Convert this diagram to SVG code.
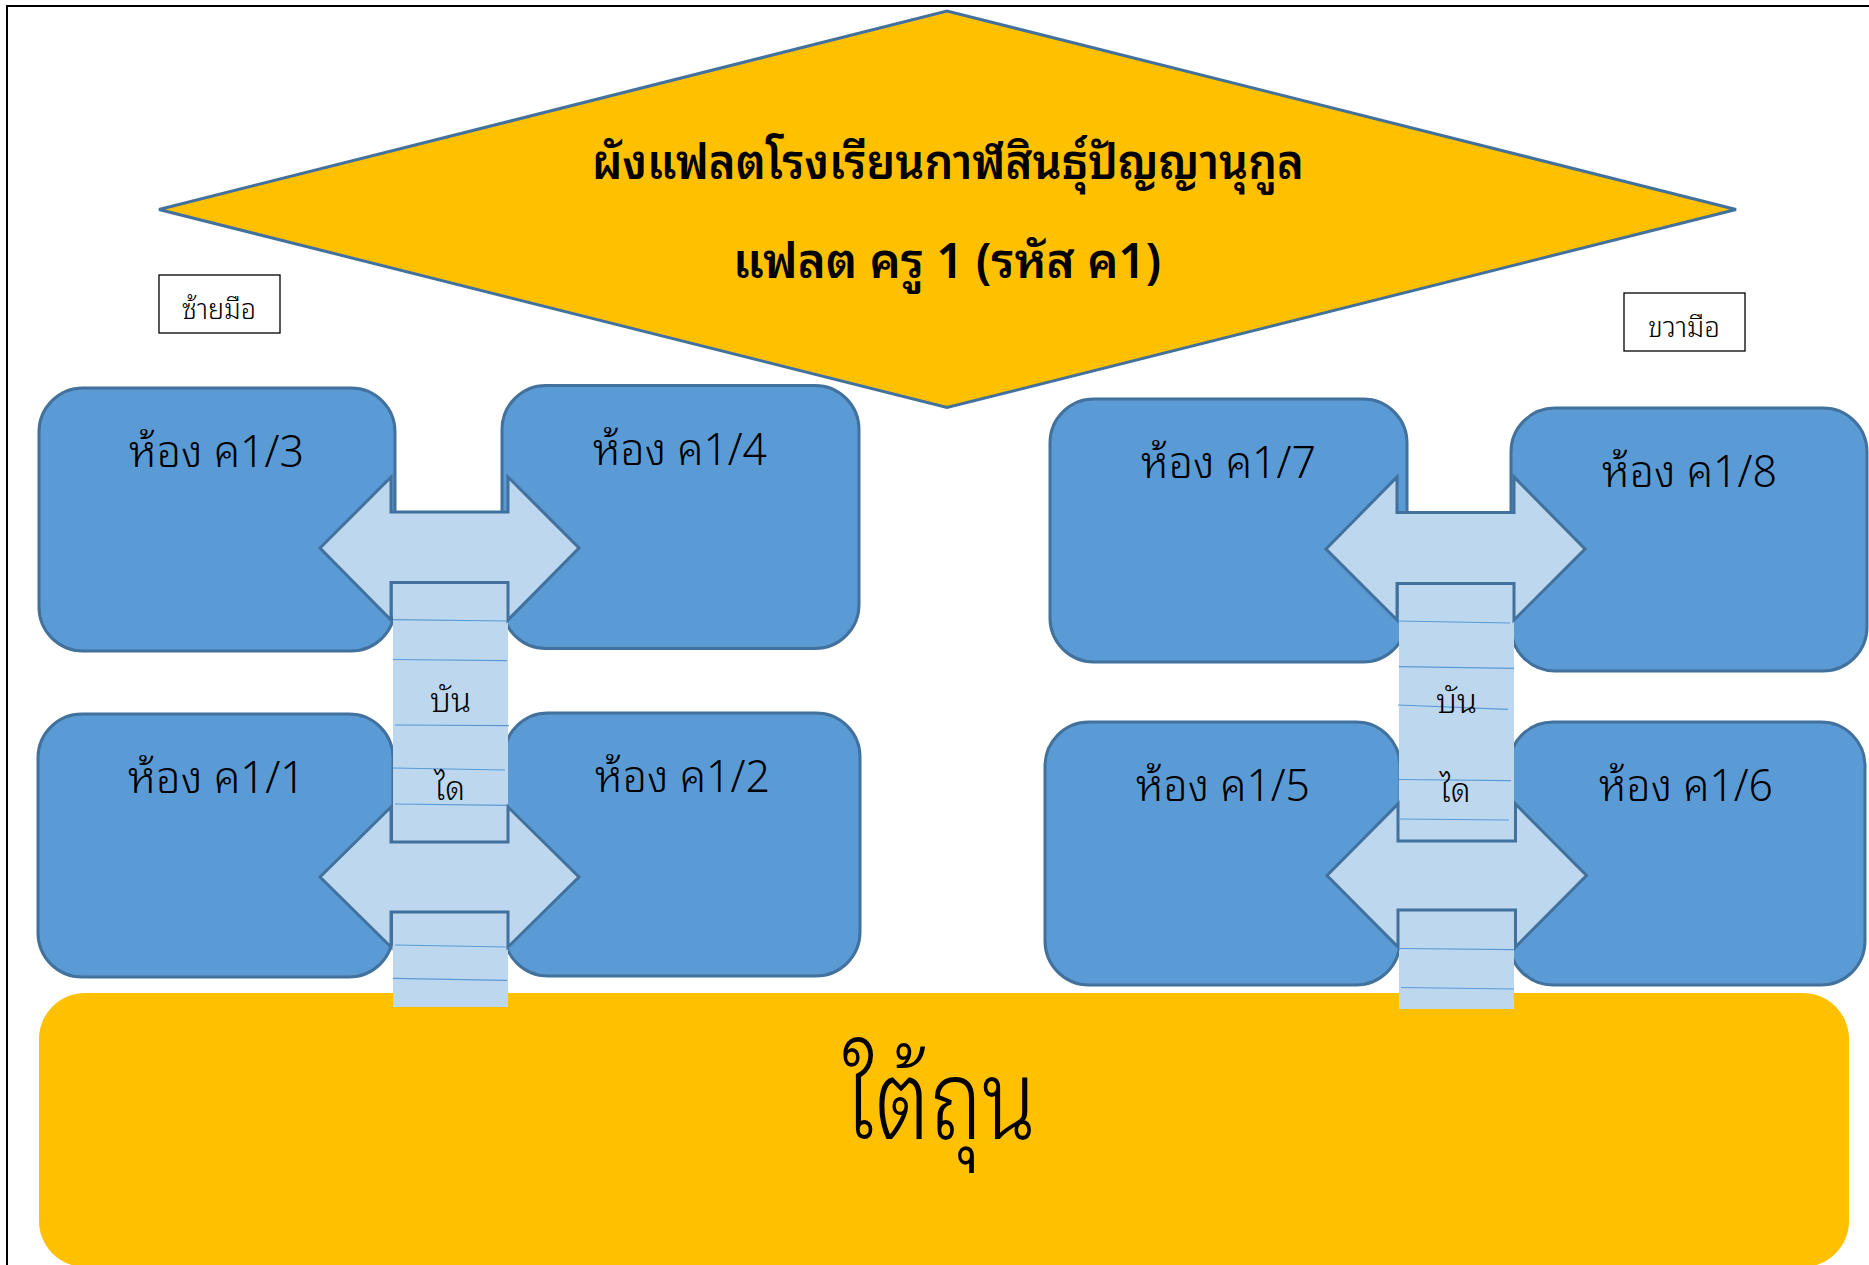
<svg xmlns="http://www.w3.org/2000/svg" width="1869" height="1265" viewBox="0 0 1869 1265">
<style>
text{font-family:"Noto Sans Thai Looped","Noto Sans Thai","Noto Sans","Liberation Sans",sans-serif;fill:#000;font-weight:300}
.room{fill:#5B9BD5;stroke:#41719C;stroke-width:3}
.arrow{fill:#BDD7EE;stroke:#41719C;stroke-width:3;stroke-linejoin:miter}
.stair{fill:#BDD7EE}
.step{stroke:#5B9BD5;stroke-width:1.2;fill:none}
.label{fill:#fff;stroke:#000;stroke-width:1.3}
.rt{font-size:44px}
.lt{font-size:28px}
.st{font-size:34px}
.tt{font-size:48px;font-weight:600}
</style>
<rect width="1869" height="1265" fill="#fff"/>
<path d="M7 1265V6H1869" fill="none" stroke="#000" stroke-width="2"/>
<g id="basement"><rect x="39" y="993" width="1810" height="274" rx="46" ry="46" fill="#FFC000"/><text x="843" y="1139" font-size="110" textLength="193" lengthAdjust="spacingAndGlyphs">ใต้ถุน</text></g>
<g id="title"><polygon points="159,209.5 947,11 1736,209.5 947,407.5" fill="#FFC000" stroke="#41719C" stroke-width="3"/>
<text class="tt" x="592" y="179" textLength="712" lengthAdjust="spacingAndGlyphs">ผังแฟลตโรงเรียนกาฬสินธุ์ปัญญานุกูล</text>
<text class="tt" x="733" y="278" textLength="428" lengthAdjust="spacingAndGlyphs">แฟลต ครู 1 (รหัส ค1)</text></g>
<g id="label-left"><rect class="label" x="159" y="275" width="121" height="58"/><text class="lt" x="182" y="319" textLength="74" lengthAdjust="spacingAndGlyphs">ซ้ายมือ</text></g>
<g id="label-right"><rect class="label" x="1624" y="293" width="121" height="58"/><text class="lt" x="1648" y="337" textLength="72" lengthAdjust="spacingAndGlyphs">ขวามือ</text></g>
<g id="room-3"><rect class="room" x="39" y="388" width="356" height="263" rx="44"/><text class="rt" x="129" y="467" textLength="175" lengthAdjust="spacingAndGlyphs">ห้อง ค1/3</text></g>
<g id="room-4"><rect class="room" x="502" y="385.5" width="357" height="263" rx="44"/><text class="rt" x="593" y="464.5" textLength="174" lengthAdjust="spacingAndGlyphs">ห้อง ค1/4</text></g>
<g id="room-1"><rect class="room" x="38" y="714" width="355" height="263" rx="44"/><text class="rt" x="128" y="792.5" textLength="177" lengthAdjust="spacingAndGlyphs">ห้อง ค1/1</text></g>
<g id="room-2"><rect class="room" x="504" y="713" width="356" height="263" rx="44"/><text class="rt" x="595" y="791.5" textLength="175" lengthAdjust="spacingAndGlyphs">ห้อง ค1/2</text></g>
<g id="room-7"><rect class="room" x="1050" y="399" width="357" height="263" rx="44"/><text class="rt" x="1141" y="477.5" textLength="175" lengthAdjust="spacingAndGlyphs">ห้อง ค1/7</text></g>
<g id="room-8"><rect class="room" x="1511" y="408" width="356" height="263" rx="44"/><text class="rt" x="1602" y="487" textLength="175" lengthAdjust="spacingAndGlyphs">ห้อง ค1/8</text></g>
<g id="room-5"><rect class="room" x="1045" y="722" width="355" height="263" rx="44"/><text class="rt" x="1136" y="800.6" textLength="174" lengthAdjust="spacingAndGlyphs">ห้อง ค1/5</text></g>
<g id="room-6"><rect class="room" x="1509" y="722" width="356" height="263" rx="44"/><text class="rt" x="1599" y="800.6" textLength="174" lengthAdjust="spacingAndGlyphs">ห้อง ค1/6</text></g>
<g id="connectors">
<rect class="stair" x="393" y="584" width="115" height="423"/>
<rect class="stair" x="1399" y="584" width="115" height="425"/>
<polygon class="arrow" points="320,548 391,477 391,512 508,512 508,477 579,548 508,620 508,582.5 391,582.5 391,620"/>
<polygon class="arrow" points="320,877 391,807 391,842 508,842 508,807 579,877 508,947 508,912 391,912 391,947"/>
<polygon class="arrow" points="1326,549 1397,477 1397,512.5 1514,512.5 1514,477 1585,549 1514,620 1514,583.5 1397,583.5 1397,620"/>
<polygon class="arrow" points="1327,875.5 1398,804 1398,841 1515.5,841 1515.5,804 1586.5,875.5 1515.5,947 1515.5,910 1398,910 1398,947"/>
<path class="step" d="M393 619.6L507 621M393 659.5L507 660.7M395 725L509 725.7M393 768L505 770M395 804L507 805.4M395 945L507 947M393 978.4L507 980.4"/>
<path class="step" d="M1398 621L1510 623M1399 666.7L1514 668.3M1398 705L1508 709.4M1399 779.5L1511 780.7M1398 819L1509 820M1400 948.5L1514 949.7M1401 987.5L1514 989"/>
</g>
<g id="stair-left"><text class="st" x="430" y="712" textLength="41" lengthAdjust="spacingAndGlyphs">บัน</text><text class="st" x="434" y="800" textLength="31" lengthAdjust="spacingAndGlyphs">ได</text></g>
<g id="stair-right"><text class="st" x="1436" y="713" textLength="41" lengthAdjust="spacingAndGlyphs">บัน</text><text class="st" x="1439.5" y="802" textLength="31" lengthAdjust="spacingAndGlyphs">ได</text></g>
</svg>
